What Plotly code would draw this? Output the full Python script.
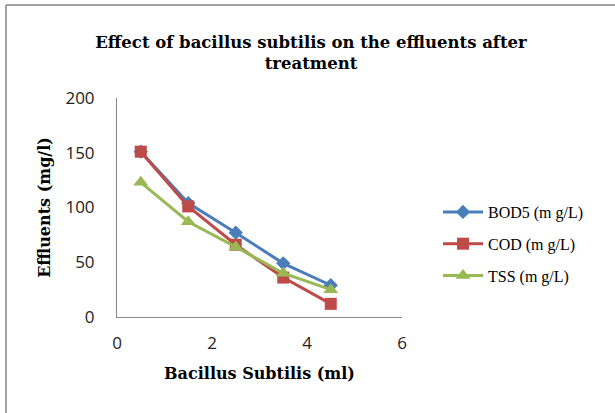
import plotly.graph_objects as go

x_ml = [0.5, 1.5, 2.5, 3.5, 4.5]
bod5 = [151, 104, 77, 49, 29]
cod = [151, 101, 66, 36, 12]
tss = [123, 87, 64, 40, 25]

series = [
    ("BOD5 (m g/L)", bod5, "#4A7EBB", "diamond", 11),
    ("COD (m g/L)", cod, "#BE4B48", "square", 12),
    ("TSS (m g/L)", tss, "#98B954", "triangle-up", 13),
]

fig = go.Figure()
for name, vals, col, sym, sz in series:
    fig.add_trace(go.Scatter(
        x=x_ml, y=vals, name=name, mode="lines+markers", legendgroup=name,
        line=dict(color=col, width=3),
        marker=dict(symbol=sym, size=sz, color=col),
    ))

L, R, T, B = 117, 213, 98, 96
pw, ph = 615 - L - R, 413 - T - B

def px(xp):
    return (xp - L) / pw

def py(yp):
    return (413 - B - yp) / ph

serif_bold = dict(family="DejaVu Serif", size=16, color="black", weight="bold")

fig.update_layout(
    width=615, height=413,
    margin=dict(l=L, r=R, t=T, b=B),
    paper_bgcolor="white", plot_bgcolor="white",
    title=dict(
        text="Effect of bacillus subtilis on the effluents after<br>treatment",
        font=dict(family="DejaVu Serif", size=16.5, color="black", weight="bold"),
        x=311 / 615, xref="container", xanchor="center", y=1 - 48 / 413, yanchor="middle",
    ),
    showlegend=True,
    legend=dict(
        x=px(438), y=py(195), xanchor="left", yanchor="top",
        font=dict(family="Liberation Serif", size=16, color="black"),
        bgcolor="rgba(0,0,0,0)", traceorder="grouped", tracegroupgap=8,
        itemwidth=40,
    ),
    xaxis=dict(
        range=[0, 6], dtick=2, showgrid=False, zeroline=False,
        showline=True, linecolor="#868686", linewidth=1,
        ticks="", ticklabelstandoff=11,
        tickfont=dict(family="Open Sans", size=17, color="#222222"),
        title=dict(text="Bacillus Subtilis (ml)", standoff=14, font=serif_bold),
    ),
    yaxis=dict(
        range=[0, 200], dtick=50, showgrid=False, zeroline=False,
        showline=True, linecolor="#868686", linewidth=1,
        ticks="", ticklabelstandoff=18,
        tickfont=dict(family="Open Sans", size=17, color="#222222"),
        title=dict(text="Effluents (mg/l)", standoff=10, font=serif_bold),
    ),
    shapes=[
        dict(type="line", xref="paper", yref="paper",
             x0=px(6), x1=px(6), y0=py(5), y1=py(413),
             line=dict(color="#A0A0A0", width=2)),
        dict(type="line", xref="paper", yref="paper",
             x0=px(6), x1=px(615), y0=py(5), y1=py(5),
             line=dict(color="#A0A0A0", width=2)),
    ],
)

fig.write_html("out.html")
